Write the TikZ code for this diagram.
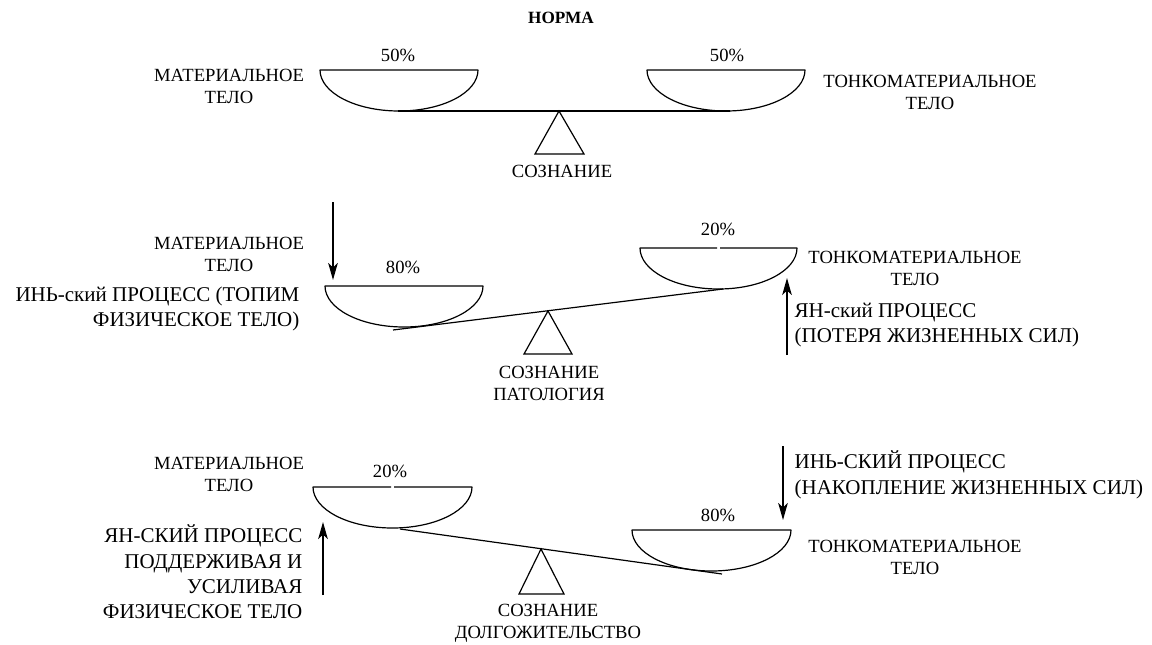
\documentclass[tikz,border=0pt]{standalone}
\usepackage{fontspec}
\setmainfont{Liberation Serif}
\usetikzlibrary{arrows.meta}

\begin{document}
\begin{tikzpicture}[x=0.5pt, y=-0.5pt, >={Stealth[length=8.5pt, width=4.8pt, inset=2.2pt]}, line width=0.6pt]
        % Estilos
        \tikzstyle{label} = [font=\fontsize{9.3}{11}\selectfont, align=center, inner sep=0pt]
        \tikzstyle{percent} = [font=\fontsize{9.3}{11}\selectfont, inner sep=0pt]
        \tikzstyle{process} = [font=\fontsize{10.5}{12.7}\selectfont, inner sep=0pt]
        \tikzstyle{bowl} = [draw, line join=round]
        \tikzstyle{support} = [draw, line join=miter]
        \useasboundingbox (0,0) rectangle (1152,644);

        % Escala 1: norma
        \node at (561,18) [font=\fontsize{8.6}{10}\selectfont\bfseries, inner sep=0pt] (title) {НОРМА};
        \node at (320,70) [coordinate] (normaMatA) {};
        \node at (478,70) [coordinate] (normaMatB) {};
        \node at (647,70) [coordinate] (normaTonA) {};
        \node at (805,70) [coordinate] (normaTonB) {};
        \node at (398,111) [coordinate] (normaBeamL) {};
        \node at (730,111) [coordinate] (normaBeamR) {};
        \node at (559,111) [coordinate] (normaTop) {};
        \node at (535,154) [coordinate] (normaBaseL) {};
        \node at (584,154) [coordinate] (normaBaseR) {};
        \node at (398,55) [percent] (normaMatPct) {50\%};
        \node at (727,55) [percent] (normaTonPct) {50\%};
        \node at (229,86) [label] (normaMatText) {МАТЕРИАЛЬНОЕ\\ТЕЛО};
        \node at (930,92) [label] (normaTonText) {ТОНКОМАТЕРИАЛЬНОЕ\\ТЕЛО};
        \node at (562,171) [label] (normaMind) {СОЗНАНИЕ};

        \draw [bowl] (normaMatB) arc[start angle=0, end angle=180, x radius=79, y radius=41] -- cycle;
        \draw [bowl] (normaTonB) arc[start angle=0, end angle=180, x radius=79, y radius=41] -- cycle;
        \draw (normaBeamL) -- (normaBeamR);
        \draw [support] (normaTop) -- (normaBaseL) -- (normaBaseR) -- cycle;

        % Escala 2: patologia
        \node at (325,286) [coordinate] (patMatA) {};
        \node at (483,286) [coordinate] (patMatB) {};
        \node at (640,248) [coordinate] (patTonA) {};
        \node at (717,248) [coordinate] (patTonGapL) {};
        \node at (720,248) [coordinate] (patTonGapR) {};
        \node at (797,248) [coordinate] (patTonB) {};
        \node at (393,330) [coordinate] (patBeamL) {};
        \node at (723,289) [coordinate] (patBeamR) {};
        \node at (548,311) [coordinate] (patTop) {};
        \node at (524,354) [coordinate] (patBaseL) {};
        \node at (572,354) [coordinate] (patBaseR) {};
        \node at (333,202) [coordinate] (patYinStart) {};
        \node at (333,280) [coordinate] (patYinEnd) {};
        \node at (787,355) [coordinate] (patYangStart) {};
        \node at (787,278) [coordinate] (patYangEnd) {};
        \node at (403,267) [percent] (patMatPct) {80\%};
        \node at (718,229) [percent] (patTonPct) {20\%};
        \node at (229,254) [label] (patMatText) {МАТЕРИАЛЬНОЕ\\ТЕЛО};
        \node at (915,268) [label] (patTonText) {ТОНКОМАТЕРИАЛЬНОЕ\\ТЕЛО};
        \node at (300,309) [process, anchor=east, align=right] (patYin) {ИНЬ-ский ПРОЦЕСС (ТОПИМ\\ФИЗИЧЕСКОЕ ТЕЛО)};
        \node at (794,325) [process, anchor=west, align=left] (patYang) {ЯН-ский ПРОЦЕСС\\(ПОТЕРЯ ЖИЗНЕННЫХ СИЛ)};
        \node at (549,383) [label] (patMind) {СОЗНАНИЕ\\ПАТОЛОГИЯ};

        \draw [bowl] (patMatB) arc[start angle=0, end angle=180, x radius=79, y radius=41] -- cycle;
        \draw [bowl] (patTonGapR) -- (patTonB) arc[start angle=0, end angle=180, x radius=78.5, y radius=41] -- (patTonGapL);
        \draw (patBeamL) -- (patBeamR);
        \draw [support] (patTop) -- (patBaseL) -- (patBaseR) -- cycle;
        \draw [->] (patYinStart) -- (patYinEnd);
        \draw [->] (patYangStart) -- (patYangEnd);

        % Escala 3: longevidad
        \node at (313,487) [coordinate] (longMatA) {};
        \node at (391,487) [coordinate] (longMatGapL) {};
        \node at (394,487) [coordinate] (longMatGapR) {};
        \node at (472,487) [coordinate] (longMatB) {};
        \node at (632,530) [coordinate] (longTonA) {};
        \node at (791,530) [coordinate] (longTonB) {};
        \node at (400,529) [coordinate] (longBeamL) {};
        \node at (722,574) [coordinate] (longBeamR) {};
        \node at (541,549) [coordinate] (longTop) {};
        \node at (519,594) [coordinate] (longBaseL) {};
        \node at (564,594) [coordinate] (longBaseR) {};
        \node at (323,595) [coordinate] (longYangStart) {};
        \node at (323,522) [coordinate] (longYangEnd) {};
        \node at (783,446) [coordinate] (longYinStart) {};
        \node at (783,520) [coordinate] (longYinEnd) {};
        \node at (390,471) [percent] (longMatPct) {20\%};
        \node at (718,515) [percent] (longTonPct) {80\%};
        \node at (229,474) [label] (longMatText) {МАТЕРИАЛЬНОЕ\\ТЕЛО};
        \node at (915,557) [label] (longTonText) {ТОНКОМАТЕРИАЛЬНОЕ\\ТЕЛО};
        \node at (303,572) [process, anchor=east, align=right] (longYang) {ЯН-СКИЙ ПРОЦЕСС\\ПОДДЕРЖИВАЯ И\\УСИЛИВАЯ\\ФИЗИЧЕСКОЕ ТЕЛО};
        \node at (794,475) [process, anchor=west, align=left] (longYin) {ИНЬ-СКИЙ ПРОЦЕСС\\(НАКОПЛЕНИЕ ЖИЗНЕННЫХ СИЛ)};
        \node at (548,623) [label] (longMind) {СОЗНАНИЕ\\ДОЛГОЖИТЕЛЬСТВО};

        \draw [bowl] (longMatGapR) -- (longMatB) arc[start angle=0, end angle=180, x radius=79.5, y radius=41] -- (longMatGapL);
        \draw [bowl] (longTonB) arc[start angle=0, end angle=180, x radius=79.5, y radius=41] -- cycle;
        \draw (longBeamL) -- (longBeamR);
        \draw [support] (longTop) -- (longBaseL) -- (longBaseR) -- cycle;
        \draw [->] (longYangStart) -- (longYangEnd);
        \draw [->] (longYinStart) -- (longYinEnd);
\end{tikzpicture}
\end{document}
